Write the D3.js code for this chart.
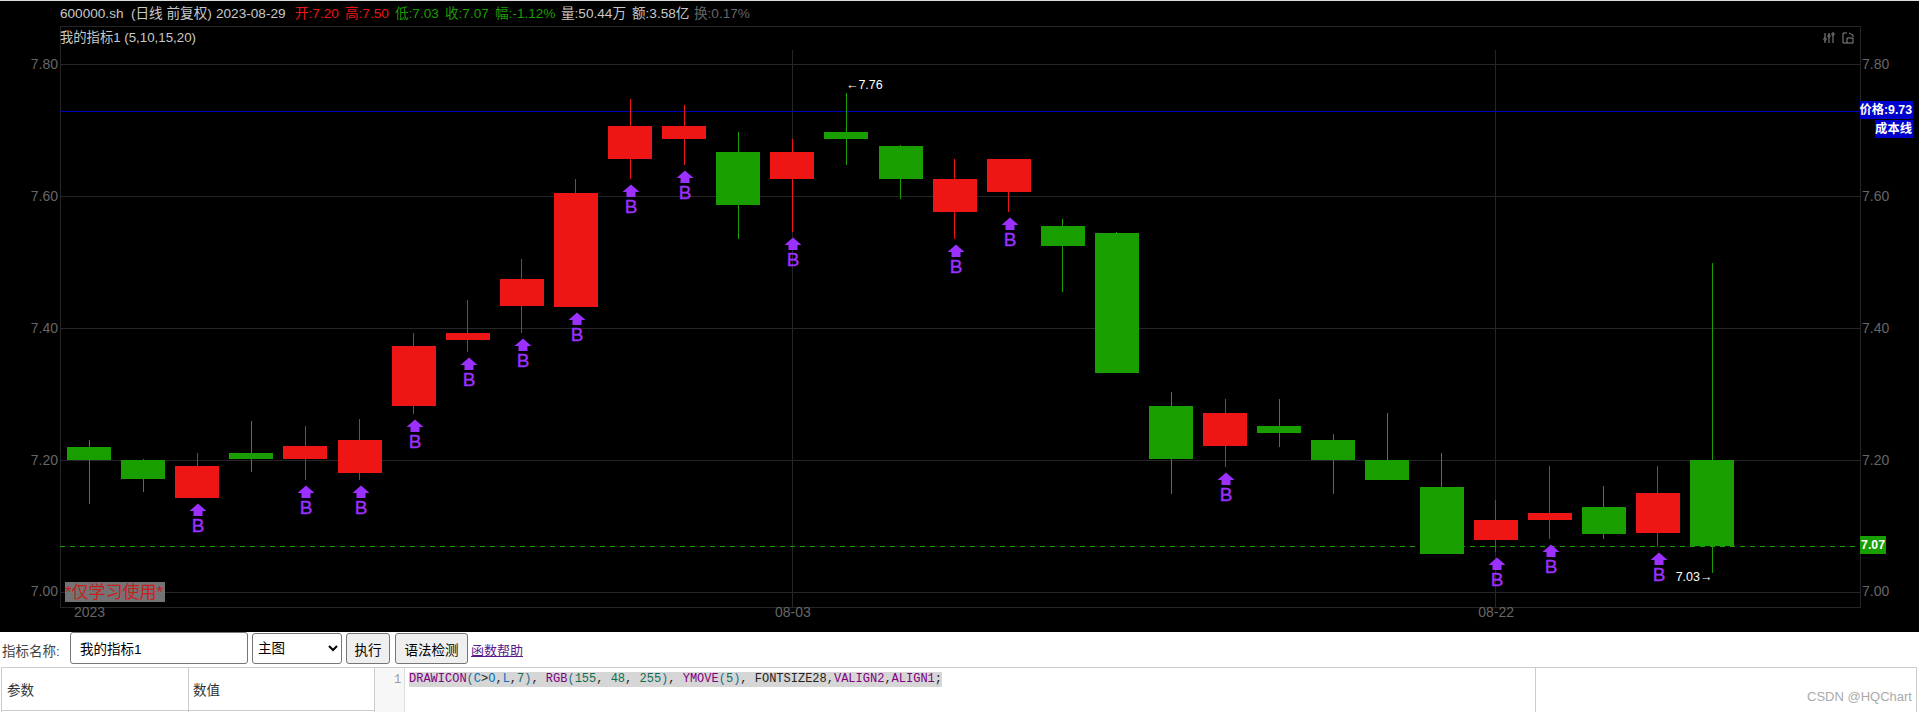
<!DOCTYPE html>
<html><head><meta charset="utf-8">
<script src="https://cdnjs.cloudflare.com/ajax/libs/d3/7.8.5/d3.min.js"></script>
<style>
html,body{margin:0;padding:0;background:#fff;width:1919px;height:712px;overflow:hidden;font-family:"Liberation Sans","Noto Sans CJK SC",sans-serif;}
svg{position:absolute;left:0;top:0;}
.ui{position:absolute;box-sizing:border-box;font-size:13.5px;color:#000;}
input.ui{border:1px solid #767676;border-radius:3px;padding:0 0 0 9px;font-family:inherit;background:#fff;outline:none;}
select.ui{border:1px solid #767676;border-radius:3px;background:#fff;font-family:inherit;padding-left:1px;}
button.ui{border:1px solid #767676;border-radius:3px;background:#efefef;font-family:inherit;padding:0;}
.code{font-family:"Liberation Mono",monospace;font-size:12px;line-height:15px;white-space:pre;background:#d6d6d6;color:#222;}
.k{color:#800080}.v{color:#0070c1}.n{color:#0b6e55}.p{color:#1f6f8b}
</style></head><body>
<svg id="chart" width="1919" height="712"></svg>
<div class="ui" style="left:2px;top:640px;color:#444;">指标名称:</div>
<input class="ui" style="left:70px;top:632px;width:178px;height:32px;" value="我的指标1">
<select class="ui" style="left:252px;top:633px;width:90px;height:31px;"><option>主图</option></select>
<button class="ui" style="left:346px;top:633px;width:44px;height:31px;">执行</button>
<button class="ui" style="left:395px;top:633px;width:73px;height:31px;">语法检测</button>
<a class="ui" href="#" style="left:471px;top:640px;color:#551a8b;text-decoration:underline;font-size:13px;">函数帮助</a>
<div class="ui" style="left:7px;top:679px;color:#333;">参数</div>
<div class="ui" style="left:193px;top:679px;color:#333;">数值</div>
<div class="ui" style="left:394px;top:673px;color:#999;font-family:'Liberation Mono',monospace;font-size:12px;line-height:15px;">1</div>
<div class="ui code" style="left:409px;top:672px;height:15px;"><span class="k">DRAWICON</span><span class="p">(</span><span class="v">C</span>&gt;<span class="v">O</span>,<span class="v">L</span>,<span class="n">7</span><span class="p">)</span>, <span class="k">RGB</span><span class="p">(</span><span class="n">155</span>, <span class="n">48</span>, <span class="n">255</span><span class="p">)</span>, <span class="k">YMOVE</span><span class="p">(</span><span class="n">5</span><span class="p">)</span>, FONTSIZE28,<span class="k">VALIGN2</span>,<span class="k">ALIGN1</span>;</div>
<div class="ui" style="left:1807px;top:689px;color:#aaa;font-size:13px;">CSDN @HQChart</div>
<script>
const categories = ["07-17","07-18","07-19","07-20","07-21","07-24","07-25","07-26","07-27","07-28","07-31","08-01","08-02","08-03","08-04","08-07","08-08","08-09","08-10","08-11","08-14","08-15","08-16","08-17","08-18","08-21","08-22","08-23","08-24","08-25","08-29"];
const opens  = [7.221,7.201,7.143,7.212,7.2025,7.181,7.283,7.383,7.434,7.433,7.657,7.688,7.668,7.627,7.698,7.677,7.577,7.607,7.556,7.545,7.283,7.222,7.252,7.231,7.201,7.16,7.08,7.11,7.13,7.09,7.201];
const closes = [7.201,7.172,7.192,7.2025,7.222,7.231,7.374,7.393,7.475,7.606,7.707,7.707,7.588,7.668,7.688,7.627,7.627,7.657,7.525,7.333,7.2025,7.272,7.242,7.201,7.171,7.058,7.11,7.12,7.089,7.151,7.071];
const highs  = [7.231,7.2025,7.211,7.26,7.252,7.263,7.394,7.444,7.506,7.627,7.748,7.739,7.698,7.687,7.758,7.678,7.657,7.657,7.566,7.547,7.304,7.293,7.293,7.241,7.272,7.211,7.141,7.192,7.161,7.192,7.50];
const lows   = [7.134,7.153,7.143,7.182,7.171,7.171,7.271,7.364,7.394,7.433,7.627,7.648,7.536,7.546,7.648,7.596,7.536,7.577,7.455,7.333,7.15,7.191,7.221,7.15,7.171,7.058,7.061,7.081,7.081,7.069,7.03];
const priceTicks = [7.0,7.2,7.4,7.6,7.8];
const dateTicks = ["07-17","08-03","08-22"];
const dateTickLabels = {"07-17":"2023","08-03":"08-03","08-22":"08-22"};
const costLine = 7.729, lastClose = 7.07, maxLabel = "←7.76", minLabel = "7.03→";
const headerItems = [
 ["600000.sh",60,"#c8c8c8"],["(日线 前复权)",131,"#c8c8c8"],["2023-08-29",216,"#c8c8c8"],
 ["开:7.20",295,"#ee1515"],["高:7.50",345,"#ee1515"],["低:7.03",395,"#199e00"],["收:7.07",445,"#199e00"],
 ["幅:-1.12%",495,"#199e00"],["量:50.44万",561,"#c8c8c8"],["额:3.58亿",632,"#c8c8c8"],["换:0.17%",694,"#666"]];

const RED="#ee1515",GREEN="#199e00",PURPLE="rgb(155,48,255)",GRID="#262626",AXIS="#666";
const L=60,R=1860,T=26,B=607;
const svg=d3.select("#chart");
const px=v=>Math.floor(v)+.5;
const x=d3.scalePoint().domain(categories).range([89,1712]);
const y=d3.scaleLinear().domain([7,7.8]).range([592.5,64.9]);
const FONT='"Liberation Sans","Noto Sans CJK SC",sans-serif';

svg.append("rect").attr("x",0).attr("y",1).attr("width",1919).attr("height",631).attr("fill","#000");
svg.append("rect").attr("x",0).attr("y",0).attr("width",1919).attr("height",1).attr("fill","#ddd");

// grid
const g=svg.append("g").attr("shape-rendering","crispEdges").attr("fill","none").attr("stroke",GRID);
g.selectAll(".h").data(priceTicks).join("line").attr("x1",L).attr("x2",R).attr("y1",d=>px(y(d))).attr("y2",d=>px(y(d)));
g.selectAll(".v").data(dateTicks.slice(1)).join("line").attr("y1",50).attr("y2",B).attr("x1",d=>px(x(d))).attr("x2",d=>px(x(d)));
g.append("rect").attr("x",L+.5).attr("y",T+.5).attr("width",R-L).attr("height",B-T);

// axes
function styleAxis(sel){sel.select(".domain").remove();sel.selectAll(".tick line").remove();
  sel.selectAll("text").attr("fill",AXIS).style("font-family",FONT).style("font-size","14px");}
svg.append("g").attr("transform",`translate(${L},-1)`).call(d3.axisLeft(y).tickValues(priceTicks).tickFormat(d3.format(".2f")).tickSize(0).tickPadding(2)).call(styleAxis);
svg.append("g").attr("transform",`translate(${R},-1)`).call(d3.axisRight(y).tickValues(priceTicks).tickFormat(d3.format(".2f")).tickSize(0).tickPadding(2)).call(styleAxis);
svg.append("g").attr("transform",`translate(0,${B})`).call(d3.axisBottom(x).tickValues(dateTicks).tickFormat(d=>dateTickLabels[d]).tickSize(0).tickPadding(0)).call(styleAxis);

// reference lines
svg.append("line").attr("x1",L).attr("x2",R).attr("y1",px(y(costLine))).attr("y2",px(y(costLine))).attr("stroke","#0000b8").attr("shape-rendering","crispEdges");
svg.append("line").attr("x1",L).attr("x2",R).attr("y1",px(y(lastClose))).attr("y2",px(y(lastClose))).attr("stroke",GREEN).attr("stroke-dasharray","5,5").attr("shape-rendering","crispEdges");

// candles
const data=categories.map((c,i)=>({c,o:opens[i],cl:closes[i],h:highs[i],l:lows[i]}));
const col=d=>d.cl>d.o?RED:GREEN;
const cg=svg.append("g").attr("shape-rendering","crispEdges");
cg.selectAll("line").data(data).join("line").attr("x1",d=>px(x(d.c))).attr("x2",d=>px(x(d.c))).attr("y1",d=>y(d.h)).attr("y2",d=>y(d.l)).attr("stroke",col);
cg.selectAll("rect").data(data).join("rect").attr("x",d=>Math.round(x(d.c))-22).attr("width",44)
  .attr("y",d=>Math.round(y(Math.max(d.o,d.cl)))).attr("height",d=>Math.max(1,Math.round(y(Math.min(d.o,d.cl)))-Math.round(y(Math.max(d.o,d.cl))))).attr("fill",col);

// DRAWICON B
const ups=data.filter(d=>d.cl>d.o);
const ig=svg.append("g").selectAll("g").data(ups).join("g").attr("transform",d=>`translate(${Math.round(x(d.c))+1},${Math.round(y(d.l))})`);
ig.append("path").attr("d","M0,5.5L8.5,13L4.5,13L4.5,18L-4.5,18L-4.5,13L-8.5,13Z").attr("fill",PURPLE);
ig.append("text").text("B").attr("y",33.5).attr("text-anchor","middle").attr("fill",PURPLE).attr("stroke",PURPLE).attr("stroke-width",.4).style("font-family","'Liberation Sans',sans-serif").style("font-size","19px");

// text helper
function txt(s,xx,yy,fill,size,anchor,weight){return svg.append("text").text(s).attr("x",xx).attr("y",yy).attr("fill",fill).attr("text-anchor",anchor||"start").attr("dominant-baseline","central").style("font-family",FONT).style("font-size",(size||13.6)+"px").style("font-weight",weight||"normal");}
headerItems.forEach(h=>txt(h[0],h[1],13,h[2]));
txt("我的指标1 (5,10,15,20)",60,37,"#c8c8c8",13.3);
txt(maxLabel,x("08-04")-.5,85,"#fff",12.5);
txt(minLabel,x("08-29")+.5,577,"#fff",12.5,"end");

// side labels
function tag(s,x0,y0,x1,y1,bg){svg.append("rect").attr("x",x0).attr("y",y0).attr("width",x1-x0).attr("height",y1-y0).attr("fill",bg);
 txt(s,x1-1,(y0+y1)/2,"#fff",12.3,"end","bold");}
tag("价格:9.73",1860,101,1913,119,"#0000cc");
tag("成本线",1875,120,1913,138,"#0000cc");
tag("7.07",1860,536,1886,554,GREEN);

// watermark
svg.append("rect").attr("x",65).attr("y",582).attr("width",100).attr("height",20).attr("fill","#808080").attr("opacity",.9);
txt("*仅学习使用*",65,592,"#c81e1e",17);

// toolbar icons
const ic=svg.append("g").attr("stroke","#8a8a8a").attr("fill","none").attr("stroke-width",1);
[[1825,39],[1829,36],[1833,34]].forEach(a=>{ic.append("line").attr("x1",a[0]).attr("x2",a[0]).attr("y1",33).attr("y2",43);
 ic.append("circle").attr("cx",a[0]).attr("cy",a[1]).attr("r",1.2).attr("fill","#000");});
ic.append("path").attr("d","M1847,33H1843V43H1847M1849,33L1853,35V37M1847,38H1853V43H1847Z");

// lower panel lines
const lg=svg.append("g").attr("stroke","#ccc").attr("shape-rendering","crispEdges");
lg.append("line").attr("x1",1).attr("x2",1917).attr("y1",667.5).attr("y2",667.5);
lg.append("line").attr("x1",1).attr("x2",375).attr("y1",710.5).attr("y2",710.5);
[1.5,188.5,374.5,1535.5,1916.5].forEach(v=>lg.append("line").attr("x1",v).attr("x2",v).attr("y1",667).attr("y2",712));
svg.append("rect").attr("x",375).attr("y",668).attr("width",29).attr("height",44).attr("fill","#f7f7f7");
lg.append("line").attr("x1",404.5).attr("x2",404.5).attr("y1",668).attr("y2",712).attr("stroke","#ddd");
</script>
</body></html>
